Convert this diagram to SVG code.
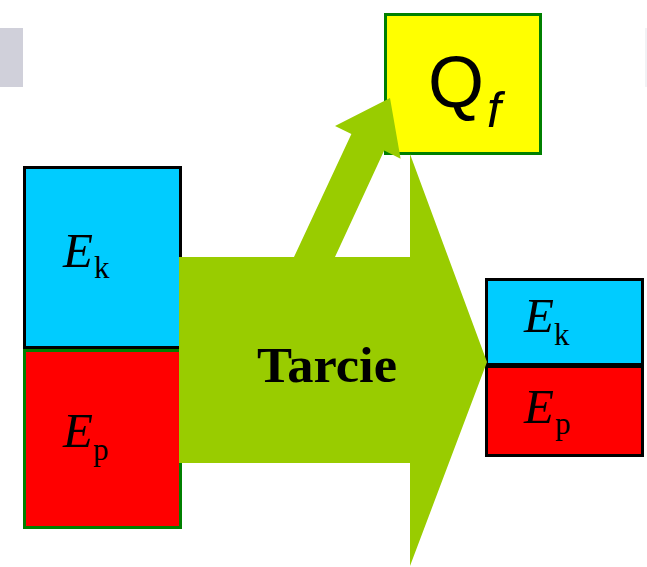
<svg xmlns="http://www.w3.org/2000/svg" width="647" height="567" viewBox="0 0 647 567">
<style>
.arrow{fill:#99cc00;stroke:none}
.lbl{font-family:"Liberation Serif",serif;fill:#000}
.e{font-style:italic;font-size:49px}
.sub{font-size:31px}
</style>
<rect width="647" height="567" fill="#fff"/>
<rect x="0" y="28" width="23" height="59" fill="#d0d0da"/>
<rect x="645" y="28" width="2" height="59" fill="#f2f2f5"/>
<g id="qf">
<rect x="385.5" y="14.5" width="155" height="139" fill="#ffff00" stroke="#008000" stroke-width="3"/>
<text x="428" y="107" font-family="Liberation Sans, Arial, sans-serif" font-size="72" fill="#000">Q</text>
<text x="487" y="127" font-family="Liberation Sans, Arial, sans-serif" font-size="50" font-style="italic" fill="#000">f</text>
</g>
<g id="left-ek">
<rect x="24.5" y="167.5" width="156" height="180" fill="#00ccff" stroke="#000" stroke-width="3"/>
<text class="lbl" x="63" y="267"><tspan class="e">E</tspan><tspan class="sub" x="94" y="278">k</tspan></text>
</g>
<g id="left-ep">
<rect x="24.5" y="350.5" width="156" height="177" fill="#ff0000" stroke="#008000" stroke-width="3"/>
<text class="lbl" x="63" y="447"><tspan class="e">E</tspan><tspan class="sub" x="93" y="460">p</tspan></text>
</g>
<g id="right-ek">
<rect x="486.5" y="279.5" width="156" height="85" fill="#00ccff" stroke="#000" stroke-width="3"/>
<text class="lbl" x="524" y="332"><tspan class="e">E</tspan><tspan class="sub" x="554" y="345">k</tspan></text>
</g>
<g id="right-ep">
<rect x="486.5" y="366.5" width="156" height="89" fill="#ff0000" stroke="#000" stroke-width="3"/>
<text class="lbl" x="524" y="423"><tspan class="e">E</tspan><tspan class="sub" x="555" y="434">p</tspan></text>
</g>
<g id="connectors">
<polygon class="arrow" points="179,257 410,257 410,154 487,362 410,566 410,463 179,463"/>
<polygon class="arrow" points="294,257 351.4,134.1 335,126 390,98 400.6,158.7 384.2,150.5 335,257"/>
<text x="257" y="382" font-family="Liberation Serif, serif" font-weight="bold" font-size="51" textLength="140" lengthAdjust="spacingAndGlyphs" fill="#000">Tarcie</text>
</g>
</svg>
